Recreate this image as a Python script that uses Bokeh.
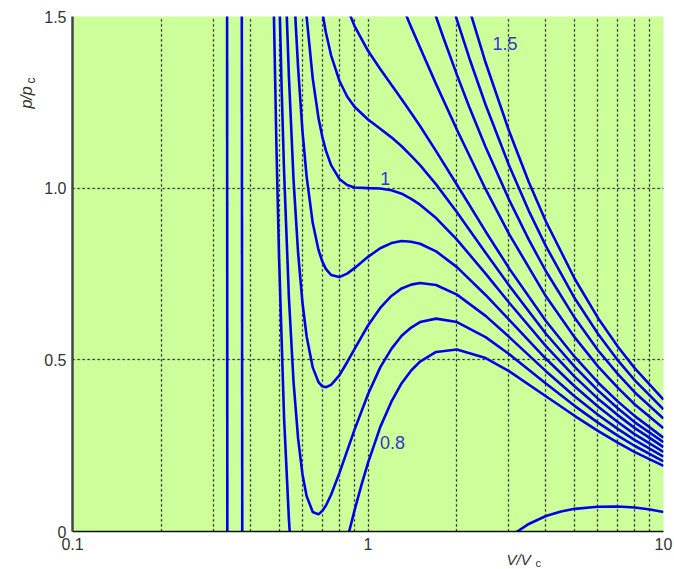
import math
from bokeh.plotting import figure
from bokeh.models import FixedTicker, Label, Grid, ColumnDataSource
from bokeh.embed import file_html
from bokeh.resources import INLINE
from bokeh.core.properties import value

# ---------------- data ----------------
# axis ticks
x_major = [0.1, 1, 10]
x_major_labels = ["0.1", "1", "10"]
x_minor = [0.2, 0.3, 0.4, 0.5, 0.6, 0.7, 0.8, 0.9, 2, 3, 4, 5, 6, 7, 8, 9]
y_major = [0, 0.5, 1, 1.5]
y_major_labels = ["0", "0.5", "1.0", "1.5"]

# isotherms: reduced volume V/Vc and reduced pressure p/pc
v_t010 = [0.3335, 0.3342]
p_t010 = [1.6, -0.1]

v_t032_liq = [0.374, 0.3755]
p_t032_liq = [1.6, -0.1]
v_t032_gas = [3.1, 3.2, 3.5, 4.0, 4.5, 5.0, 6.0, 7.0, 8.0, 9.0, 10.0]
p_t032_gas = [-0.01, 0.0, 0.022, 0.045, 0.058, 0.066, 0.072, 0.073, 0.070, 0.064, 0.057]

v_t080 = [0.47, 0.48, 0.49, 0.50, 0.52, 0.54, 0.55, 0.60, 0.70, 0.85, 0.90, 0.95, 1.0, 1.1,
          1.2, 1.3, 1.4, 1.5, 1.7, 2.0, 2.5, 3.0, 4.0, 5.0, 6.0, 7.0, 8.0, 10.0]
p_t080 = [2.03, 1.52, 1.12, 0.80, 0.33, 0.035, -0.07, -0.33, -0.30, -0.023, 0.061, 0.135, 0.20, 0.304,
          0.378, 0.432, 0.469, 0.495, 0.523, 0.530, 0.505, 0.467, 0.394, 0.337, 0.293, 0.259, 0.231, 0.191]

v_t085 = [0.49, 0.50, 0.51, 0.52, 0.54, 0.56, 0.58, 0.60, 0.62, 0.65, 0.68, 0.70, 0.72, 0.75, 0.80,
          0.85, 0.90, 1.0, 1.1, 1.2, 1.3, 1.4, 1.5, 1.7, 2.0, 2.5, 3.0, 4.0, 5.0, 6.0, 7.0, 8.0, 10.0]
p_t085 = [1.97, 1.60, 1.296, 1.048, 0.68, 0.434, 0.271, 0.167, 0.103, 0.057, 0.050, 0.060, 0.075, 0.107, 0.170,
          0.235, 0.296, 0.400, 0.478, 0.532, 0.570, 0.594, 0.610, 0.620, 0.610, 0.566, 0.517, 0.431, 0.366, 0.317,
          0.279, 0.249, 0.204]

v_t090 = [0.50, 0.52, 0.53, 0.54, 0.56, 0.58, 0.60, 0.62, 0.65, 0.68, 0.70, 0.72, 0.75, 0.80, 0.85,
          0.90, 1.0, 1.1, 1.2, 1.3, 1.4, 1.5, 1.7, 2.0, 2.5, 3.0, 4.0, 5.0, 6.0, 7.0, 8.0, 10.0]
p_t090 = [2.40, 1.762, 1.523, 1.325, 1.022, 0.812, 0.667, 0.568, 0.478, 0.435, 0.423, 0.420, 0.427, 0.455, 0.493,
          0.531, 0.600, 0.651, 0.686, 0.708, 0.719, 0.724, 0.718, 0.690, 0.628, 0.567, 0.467, 0.394, 0.340, 0.299,
          0.266, 0.218]

v_t095 = [0.54, 0.56, 0.57, 0.58, 0.60, 0.62, 0.65, 0.68, 0.70, 0.72, 0.75, 0.80, 0.85, 0.90, 1.0,
          1.1, 1.2, 1.3, 1.4, 1.5, 1.7, 2.0, 2.5, 3.0, 4.0, 5.0, 6.0, 7.0, 8.0, 10.0]
p_t095 = [1.97, 1.61, 1.47, 1.352, 1.167, 1.033, 0.899, 0.820, 0.787, 0.765, 0.747, 0.741, 0.751, 0.767, 0.800,
          0.825, 0.840, 0.846, 0.844, 0.838, 0.816, 0.770, 0.689, 0.617, 0.503, 0.423, 0.364, 0.319, 0.283, 0.232]

v_t100 = [0.56, 0.58, 0.60, 0.62, 0.65, 0.68, 0.70, 0.72, 0.75, 0.80, 0.85, 0.90, 1.0, 1.1,
          1.2, 1.3, 1.4, 1.5, 1.7, 2.0, 2.5, 3.0, 4.0, 5.0, 6.0, 7.0, 8.0, 10.0]
p_t100 = [2.20, 1.893, 1.667, 1.498, 1.320, 1.204, 1.151, 1.110, 1.067, 1.027, 1.009, 1.002, 1.000, 0.999,
          0.994, 0.984, 0.969, 0.952, 0.913, 0.850, 0.751, 0.667, 0.540, 0.451, 0.387, 0.339, 0.301, 0.246]

v_t105 = [0.62, 0.65, 0.68, 0.70, 0.72, 0.75, 0.80, 0.85, 0.90, 1.0, 1.1, 1.2, 1.3, 1.4, 1.5,
          1.7, 2.0, 2.5, 3.0, 4.0, 5.0, 6.0, 7.0, 8.0, 10.0]
p_t105 = [1.963, 1.741, 1.589, 1.514, 1.454, 1.387, 1.313, 1.267, 1.237, 1.200, 1.173, 1.148, 1.122, 1.094, 1.067,
          1.011, 0.930, 0.812, 0.717, 0.576, 0.480, 0.411, 0.359, 0.318, 0.260]

v_t110 = [0.75, 0.80, 0.85, 0.90, 1.0, 1.1, 1.2, 1.3, 1.4, 1.5, 1.7, 2.0, 2.5, 3.0, 4.0, 5.0, 6.0, 7.0, 8.0, 10.0]
p_t110 = [1.707, 1.598, 1.525, 1.473, 1.400, 1.347, 1.301, 1.259, 1.219, 1.181, 1.108, 1.010, 0.874, 0.767,
          0.613, 0.509, 0.434, 0.379, 0.336, 0.273]

v_t120 = [1.0, 1.1, 1.2, 1.3, 1.4, 1.5, 1.7, 2.0, 2.5, 3.0, 4.0, 5.0, 6.0, 7.0, 8.0, 10.0]
p_t120 = [1.80, 1.695, 1.609, 1.535, 1.469, 1.410, 1.303, 1.170, 0.997, 0.867, 0.685, 0.566, 0.481, 0.419, 0.370, 0.301]

v_t130 = [1.5, 1.6, 1.7, 1.8, 2.0, 2.2, 2.5, 3.0, 3.5, 4.0, 5.0, 6.0, 7.0, 8.0, 10.0]
p_t130 = [1.638, 1.565, 1.499, 1.438, 1.330, 1.237, 1.120, 0.967, 0.850, 0.758, 0.623, 0.528, 0.459, 0.405, 0.329]

v_t140 = [1.8, 2.0, 2.2, 2.5, 3.0, 3.5, 4.0, 5.0, 6.0, 7.0, 8.0, 10.0]
p_t140 = [1.619, 1.490, 1.380, 1.243, 1.067, 0.934, 0.831, 0.680, 0.576, 0.499, 0.440, 0.356]

v_t150 = [2.0, 2.2, 2.5, 3.0, 3.5, 4.0, 5.0, 6.0, 7.0, 8.0, 10.0]
p_t150 = [1.650, 1.523, 1.366, 1.167, 1.018, 0.903, 0.737, 0.622, 0.539, 0.475, 0.384]

# curve labels: text, the curve it belongs to and the curve point it sits next to
label_texts = ["1.5", "1", "0.8"]
label_curves = [(v_t150, p_t150), (v_t100, p_t100), (v_t080, p_t080)]
label_points = [2, 13, 12]

# ---------------- figure ----------------
FONT = "Liberation Sans"
CURVE = "#0000ee"
TXT = "#333333"

p = figure(width=674, height=569, x_axis_type="log", x_range=(0.1, 10), y_range=(0, 1.5),
           output_backend="svg", toolbar_location=None,
           min_border_left=69, min_border_right=11, min_border_top=16, min_border_bottom=38)
p.background_fill_color = "#ccff99"
p.border_fill_color = "white"
p.outline_line_color = None

p.xaxis.ticker = FixedTicker(ticks=x_major, minor_ticks=x_minor)
p.xaxis.major_label_overrides = dict(zip(x_major, x_major_labels))
p.yaxis.ticker = FixedTicker(ticks=y_major)
p.yaxis.major_label_overrides = dict(zip(y_major, y_major_labels))

for ax in (p.xaxis, p.yaxis):
    ax.major_tick_line_color = None
    ax.minor_tick_line_color = None
    ax.major_tick_out = 0
    ax.minor_tick_out = 0
    ax.major_tick_in = 0
    ax.minor_tick_in = 0
    ax.major_label_text_font = FONT
    ax.major_label_text_font_size = "16px"
    ax.major_label_text_color = TXT
p.xaxis.axis_line_color = "#111111"
p.xaxis.axis_line_width = 1.5
p.xaxis.major_label_standoff = 6
p.yaxis.axis_line_color = "#444444"
p.yaxis.axis_line_width = 2.5
p.yaxis.major_label_standoff = 6

# grid: light band underneath, dark dots on top
BAND = "#a7c97f"
DOTS = "#1f1f10"
p.xgrid.grid_line_color = BAND
p.xgrid.grid_line_width = 2
p.xgrid.grid_line_dash = "3 2"
p.xgrid.minor_grid_line_color = BAND
p.xgrid.minor_grid_line_width = 2
p.xgrid.minor_grid_line_dash = "3 2"
p.ygrid.grid_line_color = BAND
p.ygrid.grid_line_width = 2
p.ygrid.grid_line_dash = "3 2"

dots_x = Grid(dimension=0, ticker=FixedTicker(ticks=x_major, minor_ticks=x_minor),
              grid_line_color=DOTS, grid_line_width=1, grid_line_dash="2 3",
              minor_grid_line_color=DOTS, minor_grid_line_width=1, minor_grid_line_dash="2 3")
dots_y = Grid(dimension=1, ticker=FixedTicker(ticks=y_major),
              grid_line_color=DOTS, grid_line_width=1, grid_line_dash="2 3")
p.add_layout(dots_x)
p.add_layout(dots_y)

curves = [(v_t010, p_t010), (v_t032_liq, p_t032_liq), (v_t032_gas, p_t032_gas),
          (v_t080, p_t080), (v_t085, p_t085), (v_t090, p_t090), (v_t095, p_t095),
          (v_t100, p_t100), (v_t105, p_t105), (v_t110, p_t110), (v_t120, p_t120),
          (v_t130, p_t130), (v_t140, p_t140), (v_t150, p_t150)]
for vv, pp in curves:
    p.line(vv, pp, line_color=CURVE, line_width=2.6)

lab_src = ColumnDataSource(dict(
    x=[c[0][i] for c, i in zip(label_curves, label_points)],
    y=[c[1][i] for c, i in zip(label_curves, label_points)],
    text=label_texts,
    dx=[7, 0, 12],
    dy=[-19, -10, -20],
))
p.text(x="x", y="y", text="text", x_offset="dx", y_offset="dy", source=lab_src,
       text_font=value(FONT), text_font_size="18px", text_color="#3535c8",
       text_align="left", text_baseline="middle")

# axis titles, placed in the side panels so they are not clipped by the frame
# y title "p/p" + subscript "c"
p.add_layout(Label(x=2, y=434, x_units="screen", y_units="screen", text="p/p",
                   angle=math.pi / 2, text_font=FONT, text_font_size="16px",
                   text_font_style="italic", text_color=TXT,
                   text_align="center", text_baseline="middle"), "left")
# x title "V/V" (lives in the left panel, drawn at the bottom)
p.add_layout(Label(x=506, y=-36, x_units="screen", y_units="screen", text="V/V",
                   text_font=FONT, text_font_size="15px", text_font_style="italic",
                   text_color=TXT, text_align="left", text_baseline="bottom"), "left")
# subscript of the y title (lives in the bottom panel, drawn at top left)
p.add_layout(Label(x=-42, y=478, x_units="screen", y_units="screen", text="c",
                   angle=math.pi / 2, text_font=FONT, text_font_size="12px",
                   text_color=TXT, text_align="center", text_baseline="middle"), "below")
# subscript of the x title
p.add_layout(Label(x=463, y=-552.5, x_units="screen", y_units="screen", text="c",
                   text_font=FONT, text_font_size="11px",
                   text_color=TXT, text_align="left", text_baseline="bottom"), "above")

open("out.html", "w").write(file_html(p, INLINE))
